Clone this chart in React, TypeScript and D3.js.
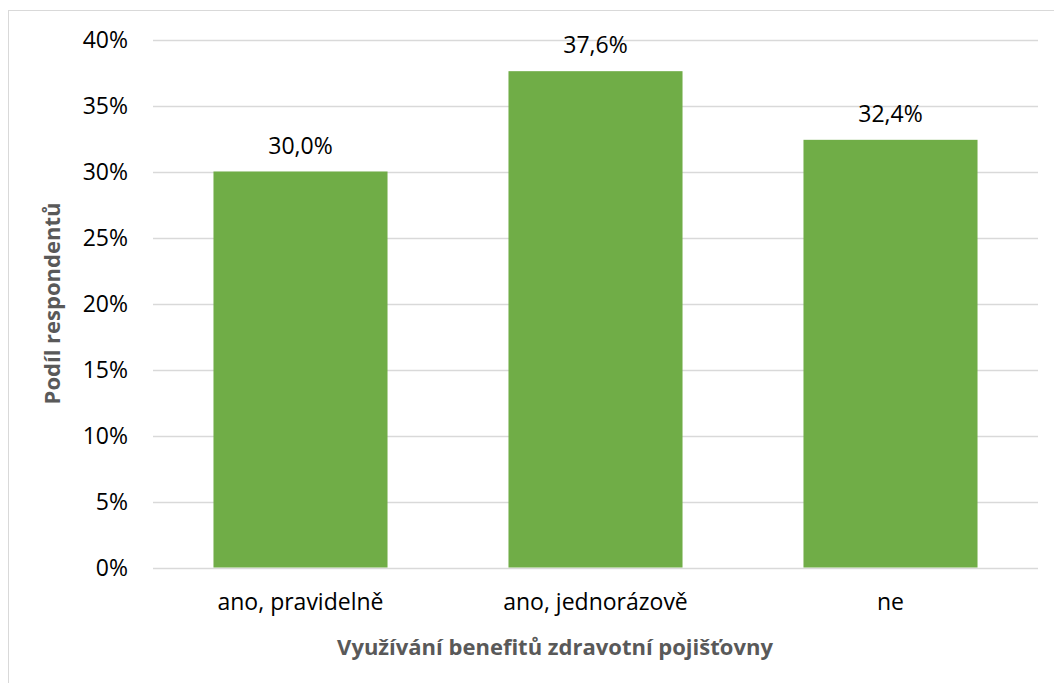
import React from "react";
import * as d3 from "d3";

const categories = ["ano, pravidelně", "ano, jednorázově", "ne"];
const values = [30.0, 37.6, 32.4];
const yTicks = [0, 5, 10, 15, 20, 25, 30, 35, 40];
const yTitle = "Podíl respondentů";
const xTitle = "Využívání benefitů zdravotní pojišťovny";

const W = 1054;
const H = 683;
const left = 153;
const right = 1038;
const top = 39.5;
const bottom = 567.5;
const FONT = "'Open Sans', sans-serif";

export default function App() {
  const x = d3.scaleBand<string>().domain(categories).range([left, right]).paddingInner(0.41).paddingOuter(0.205);
  const y = d3.scaleLinear().domain([0, 40]).range([bottom, top]);
  const fmt = (v: number) => v.toFixed(1).replace(".", ",") + "%";
  return (
    <svg width={W} height={H} style={{ position: "absolute", left: 0, top: 0, background: "#fff" }}>
      <rect x={8.5} y={10.5} width={1100} height={700} fill="#fff" stroke="#d9d9d9" strokeWidth={1} />
      {yTicks.map((t) => (
        <g key={t}>
          <line x1={left} x2={right} y1={Math.round(y(t)) + 0.5} y2={Math.round(y(t)) + 0.5} stroke="#d9d9d9" strokeWidth={1.3} />
          <text x={128} y={y(t)} dy="0.35em" textAnchor="end" fontFamily={FONT} fontSize={23} fill="#000">
            {t}%
          </text>
        </g>
      ))}
      {categories.map((c, i) => (
        <g key={c}>
          <rect x={x(c)} y={y(values[i])} width={x.bandwidth()} height={bottom - y(values[i])} fill="#70AD47" />
          <text x={x(c)! + x.bandwidth() / 2} y={y(values[i]) - 26} dy="0.35em" textAnchor="middle" fontFamily={FONT} fontSize={23} fill="#000">
            {fmt(values[i])}
          </text>
          <text x={x(c)! + x.bandwidth() / 2} y={602} dy="0.35em" textAnchor="middle" fontFamily={FONT} fontSize={23} fill="#000">
            {c}
          </text>
        </g>
      ))}
      <text
        transform={`translate(52,${(top + bottom) / 2}) rotate(-90)`}
        textAnchor="middle"
        dy="0.35em"
        fontFamily={FONT}
        fontWeight="bold"
        fontSize={22}
        fill="#595959"
      >
        {yTitle}
      </text>
      <text x={555} y={647} dy="0.35em" textAnchor="middle" fontFamily={FONT} fontWeight="bold" fontSize={22} fill="#595959">
        {xTitle}
      </text>
    </svg>
  );
}
